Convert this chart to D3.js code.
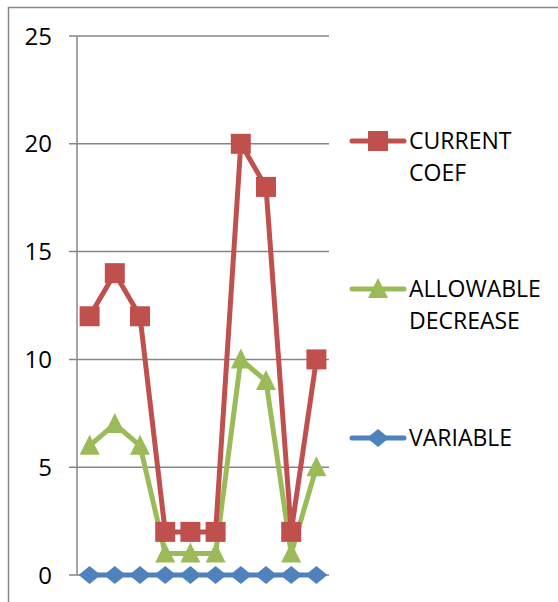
<!DOCTYPE html>
<html>
<head>
<meta charset="utf-8">
<script src="https://cdn.jsdelivr.net/npm/d3@7"></script>
<style>
  body { margin: 0; background: #fff; }
  svg { display: block; }
  text { font-family: "Open Sans", sans-serif; fill: #000; }
</style>
</head>
<body>
<div class="chart"></div>
<script>
(function(){

//data
var categories = ["1", "2", "3", "4", "5", "6", "7", "8", "9", "10"];
var currentCoef = [12, 14, 12, 2, 2, 2, 20, 18, 2, 10];
var allowableDecrease = [6, 7, 6, 1, 1, 1, 10, 9, 1, 5];
var variable = [0, 0, 0, 0, 0, 0, 0, 0, 0, 0];
var yTicks = [0, 5, 10, 15, 20, 25];

var seriesNames = ["CURRENT COEF", "ALLOWABLE DECREASE", "VARIABLE"];
var seriesLabels = [["CURRENT", "COEF"], ["ALLOWABLE", "DECREASE"], ["VARIABLE"]];

var colors = ["#C0504D", "#9BBB59", "#4F81BD"];

window.onload = drawChart();

function drawChart(){
    var width = 558,
        height = 602;

    var svg = d3.select(".chart")
        .append("svg")
        .attr("width", width)
        .attr("height", height);

    //outer chart frame (runs past the right and bottom edges)
    svg.append("rect")
        .attr("x", 8.5)
        .attr("y", 7.5)
        .attr("width", 600)
        .attr("height", 650)
        .attr("fill", "none")
        .attr("stroke", "#868686")
        .attr("stroke-width", 1.5);

    var plot = {left: 77, right: 329, top: 36, bottom: 575};

    var x = d3.scaleBand()
        .domain(categories)
        .range([plot.left, plot.right]);

    var y = d3.scaleLinear()
        .domain([0, 25])
        .range([plot.bottom, plot.top]);

    //gridlines
    svg.append("g")
        .selectAll("line")
        .data(yTicks)
        .enter()
        .append("line")
        .attr("x1", plot.left - 8)
        .attr("x2", plot.right)
        .attr("y1", function(d){ return y(d); })
        .attr("y2", function(d){ return y(d); })
        .attr("stroke", "#868686")
        .attr("stroke-width", 1.5);

    //y axis line
    svg.append("line")
        .attr("x1", plot.left)
        .attr("x2", plot.left)
        .attr("y1", plot.top)
        .attr("y2", plot.bottom)
        .attr("stroke", "#868686")
        .attr("stroke-width", 1.5);

    //tick labels
    svg.append("g")
        .selectAll("text")
        .data(yTicks)
        .enter()
        .append("text")
        .attr("x", 52)
        .attr("y", function(d){ return y(d); })
        .attr("dy", "0.36em")
        .attr("text-anchor", "end")
        .style("font-size", "24px")
        .text(function(d){ return d; });

    var line = d3.line()
        .x(function(d, i){ return x(categories[i]) + x.bandwidth() / 2; })
        .y(function(d){ return y(d); });

    //marker shapes, excel style
    function marker(s){
        if (s === 0) return "M-10,-10H10V10H-10Z";
        if (s === 1) return "M0,-11L10,9H-10Z";
        return "M0,-9L11,0L0,9L-11,0Z";
    }

    var seriesData = [currentCoef, allowableDecrease, variable];

    //draw bottom series first so red sits on top
    [2, 1, 0].forEach(function(s){
        var g = svg.append("g").attr("class", "series-" + s);
        g.append("path")
            .datum(seriesData[s])
            .attr("d", line)
            .attr("fill", "none")
            .attr("stroke", colors[s])
            .attr("stroke-width", 5)
            .attr("stroke-linejoin", "round");

        g.selectAll(".marker")
            .data(seriesData[s])
            .enter()
            .append("path")
            .attr("class", "marker")
            .attr("d", marker(s))
            .attr("transform", function(d, i){
                return "translate(" + (x(categories[i]) + x.bandwidth() / 2) + "," + y(d) + ")";
            })
            .attr("fill", colors[s]);
    });

    //legend
    var legendY = [141, 289, 438];
    var legend = svg.append("g");
    seriesNames.forEach(function(name, s){
        var lg = legend.append("g");
        lg.append("line")
            .attr("x1", 352)
            .attr("x2", 404)
            .attr("y1", legendY[s])
            .attr("y2", legendY[s])
            .attr("stroke", colors[s])
            .attr("stroke-width", 5)
            .attr("stroke-linecap", "round");
        lg.append("path")
            .attr("d", marker(s))
            .attr("transform", "translate(378," + legendY[s] + ")")
            .attr("fill", colors[s]);
        var t = lg.append("text")
            .attr("x", 409)
            .attr("y", legendY[s])
            .style("font-size", "23px");
        seriesLabels[s].forEach(function(word, k){
            t.append("tspan")
                .attr("x", 409)
                .attr("dy", k === 0 ? "0.36em" : "1.4em")
                .text(word);
        });
    });
}

})();
</script>
</body>
</html>
